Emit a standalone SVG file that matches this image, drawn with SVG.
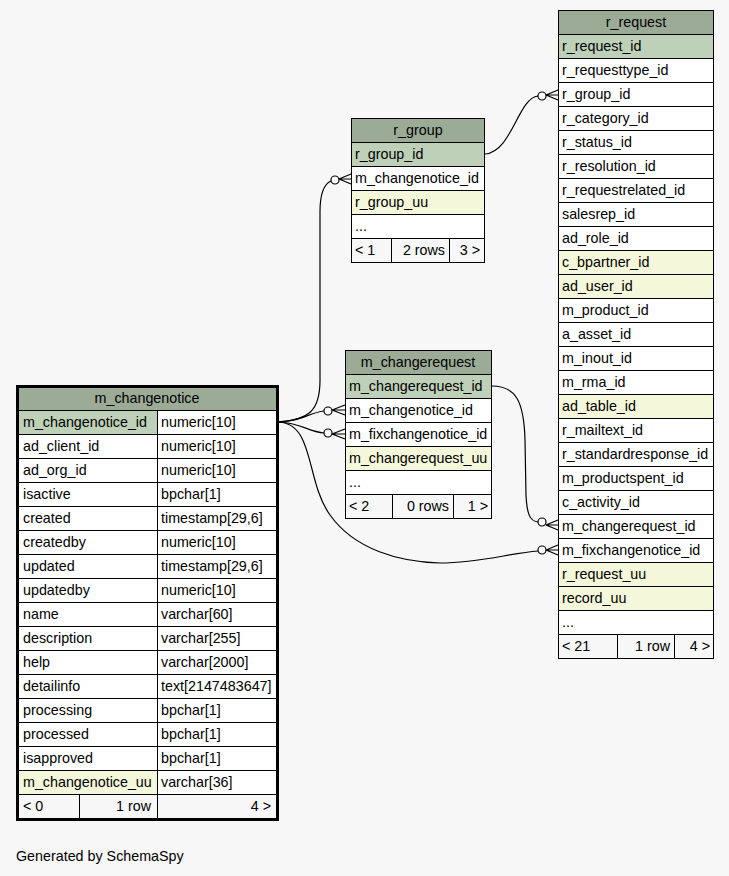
<svg xmlns="http://www.w3.org/2000/svg" width="729" height="876" viewBox="0 0 729 876">
<style>
rect{stroke:#000;stroke-width:1}
.h{fill:#9bab96}.k{fill:#bed1b8}.u{fill:#f4f7da}.w{fill:#fff}.f{fill:#f7f7f7}
text{font-family:"Liberation Sans",Arial,sans-serif;font-size:14.3px;fill:#000}
.c{text-anchor:middle}.r{text-anchor:end}
.e{fill:none;stroke:#000;stroke-width:1.2}
.o{fill:#fff;stroke:#000;stroke-width:1.2}
</style>
<rect x="0" y="0" width="729" height="876" style="fill:#f7f7f7;stroke:none"/>
<g id="connectors">
<path class="e" d="M485,154 C512,152 518,98 538,96"/>
<circle class="o" cx="542" cy="96" r="4"/>
<path class="e" d="M546,95 L558,90 M546,95 L558,95 M546,95 L558,100"/>
<path class="e" d="M277,422 C310,420 320,410 320,380 L320,212 C320,194 324,184 331,181"/>
<circle class="o" cx="335" cy="180" r="4"/>
<path class="e" d="M339,179 L351,174 M339,179 L351,179 M339,179 L351,184"/>
<path class="e" d="M277,422 C300,422 308,413 324,411"/>
<circle class="o" cx="328" cy="411" r="4"/>
<path class="e" d="M332,410 L345,405 M332,410 L345,410 M332,410 L345,415"/>
<path class="e" d="M277,422 C300,422 308,432 324,433"/>
<circle class="o" cx="328" cy="433" r="4"/>
<path class="e" d="M332,434 L345,429 M332,434 L345,434 M332,434 L345,439"/>
<path class="e" d="M277,422 C315,422 305,480 330,515 C355,550 400,562 440,563 C480,563 510,553 538,551"/>
<circle class="o" cx="542" cy="550" r="4"/>
<path class="e" d="M546,550 L558,545 M546,550 L558,550 M546,550 L558,555"/>
<path class="e" d="M492,386 C515,386 524,400 525,440 L526,495 C527,515 530,521 538,522"/>
<circle class="o" cx="542" cy="522" r="4"/>
<path class="e" d="M546,525 L558,520 M546,525 L558,525 M546,525 L558,530"/>
</g>
<g id="r_request">
<rect class="h" x="558.5" y="10.5" width="155" height="24"/><text class="c" x="636" y="27">r_request</text>
<rect class="k" x="558.5" y="34.5" width="155" height="24"/><text x="562" y="51">r_request_id</text>
<rect class="w" x="558.5" y="58.5" width="155" height="24"/><text x="562" y="75">r_requesttype_id</text>
<rect class="w" x="558.5" y="82.5" width="155" height="24"/><text x="562" y="99">r_group_id</text>
<rect class="w" x="558.5" y="106.5" width="155" height="24"/><text x="562" y="123">r_category_id</text>
<rect class="w" x="558.5" y="130.5" width="155" height="24"/><text x="562" y="147">r_status_id</text>
<rect class="w" x="558.5" y="154.5" width="155" height="24"/><text x="562" y="171">r_resolution_id</text>
<rect class="w" x="558.5" y="178.5" width="155" height="24"/><text x="562" y="195">r_requestrelated_id</text>
<rect class="w" x="558.5" y="202.5" width="155" height="24"/><text x="562" y="219">salesrep_id</text>
<rect class="w" x="558.5" y="226.5" width="155" height="24"/><text x="562" y="243">ad_role_id</text>
<rect class="u" x="558.5" y="250.5" width="155" height="24"/><text x="562" y="267">c_bpartner_id</text>
<rect class="u" x="558.5" y="274.5" width="155" height="24"/><text x="562" y="291">ad_user_id</text>
<rect class="w" x="558.5" y="298.5" width="155" height="24"/><text x="562" y="315">m_product_id</text>
<rect class="w" x="558.5" y="322.5" width="155" height="24"/><text x="562" y="339">a_asset_id</text>
<rect class="w" x="558.5" y="346.5" width="155" height="24"/><text x="562" y="363">m_inout_id</text>
<rect class="w" x="558.5" y="370.5" width="155" height="24"/><text x="562" y="387">m_rma_id</text>
<rect class="u" x="558.5" y="394.5" width="155" height="24"/><text x="562" y="411">ad_table_id</text>
<rect class="w" x="558.5" y="418.5" width="155" height="24"/><text x="562" y="435">r_mailtext_id</text>
<rect class="w" x="558.5" y="442.5" width="155" height="24"/><text x="562" y="459">r_standardresponse_id</text>
<rect class="w" x="558.5" y="466.5" width="155" height="24"/><text x="562" y="483">m_productspent_id</text>
<rect class="w" x="558.5" y="490.5" width="155" height="24"/><text x="562" y="507">c_activity_id</text>
<rect class="w" x="558.5" y="514.5" width="155" height="24"/><text x="562" y="531">m_changerequest_id</text>
<rect class="w" x="558.5" y="538.5" width="155" height="24"/><text x="562" y="555">m_fixchangenotice_id</text>
<rect class="u" x="558.5" y="562.5" width="155" height="24"/><text x="562" y="579">r_request_uu</text>
<rect class="u" x="558.5" y="586.5" width="155" height="24"/><text x="562" y="603">record_uu</text>
<rect class="w" x="558.5" y="610.5" width="155" height="24"/><text x="562" y="627">...</text>
<rect class="f" x="558.5" y="634.5" width="59" height="24"/><text x="562" y="651">&lt; 21</text>
<rect class="f" x="617.5" y="634.5" width="57" height="24"/><text class="r" x="670" y="651">1 row</text>
<rect class="f" x="674.5" y="634.5" width="39" height="24"/><text class="r" x="710" y="651">4 &gt;</text>
</g>
<g id="r_group">
<rect class="h" x="351.5" y="118.5" width="133" height="24"/><text class="c" x="418" y="135">r_group</text>
<rect class="k" x="351.5" y="142.5" width="133" height="24"/><text x="355" y="159">r_group_id</text>
<rect class="w" x="351.5" y="166.5" width="133" height="24"/><text x="355" y="183">m_changenotice_id</text>
<rect class="u" x="351.5" y="190.5" width="133" height="24"/><text x="355" y="207">r_group_uu</text>
<rect class="w" x="351.5" y="214.5" width="133" height="24"/><text x="355" y="231">...</text>
<rect class="f" x="351.5" y="238.5" width="40" height="24"/><text x="355" y="255">&lt; 1</text>
<rect class="f" x="391.5" y="238.5" width="58" height="24"/><text class="r" x="445" y="255">2 rows</text>
<rect class="f" x="449.5" y="238.5" width="35" height="24"/><text class="r" x="480" y="255">3 &gt;</text>
</g>
<g id="m_changerequest">
<rect class="h" x="345.5" y="350.5" width="146" height="24"/><text class="c" x="418" y="367">m_changerequest</text>
<rect class="k" x="345.5" y="374.5" width="146" height="24"/><text x="349" y="391">m_changerequest_id</text>
<rect class="w" x="345.5" y="398.5" width="146" height="24"/><text x="349" y="415">m_changenotice_id</text>
<rect class="w" x="345.5" y="422.5" width="146" height="24"/><text x="349" y="439">m_fixchangenotice_id</text>
<rect class="u" x="345.5" y="446.5" width="146" height="24"/><text x="349" y="463">m_changerequest_uu</text>
<rect class="w" x="345.5" y="470.5" width="146" height="24"/><text x="349" y="487">...</text>
<rect class="f" x="345.5" y="494.5" width="47" height="24"/><text x="349" y="511">&lt; 2</text>
<rect class="f" x="392.5" y="494.5" width="61" height="24"/><text class="r" x="449" y="511">0 rows</text>
<rect class="f" x="453.5" y="494.5" width="38" height="24"/><text class="r" x="488" y="511">1 &gt;</text>
</g>
<g id="m_changenotice">
<rect class="h" x="18.5" y="386.5" width="258" height="24"/><text class="c" x="147" y="403">m_changenotice</text>
<rect class="k" x="18.5" y="410.5" width="139" height="24"/><rect class="w" x="157.5" y="410.5" width="119" height="24"/><text x="23" y="427">m_changenotice_id</text><text x="161" y="427">numeric[10]</text>
<rect class="w" x="18.5" y="434.5" width="139" height="24"/><rect class="w" x="157.5" y="434.5" width="119" height="24"/><text x="23" y="451">ad_client_id</text><text x="161" y="451">numeric[10]</text>
<rect class="w" x="18.5" y="458.5" width="139" height="24"/><rect class="w" x="157.5" y="458.5" width="119" height="24"/><text x="23" y="475">ad_org_id</text><text x="161" y="475">numeric[10]</text>
<rect class="w" x="18.5" y="482.5" width="139" height="24"/><rect class="w" x="157.5" y="482.5" width="119" height="24"/><text x="23" y="499">isactive</text><text x="161" y="499">bpchar[1]</text>
<rect class="w" x="18.5" y="506.5" width="139" height="24"/><rect class="w" x="157.5" y="506.5" width="119" height="24"/><text x="23" y="523">created</text><text x="161" y="523">timestamp[29,6]</text>
<rect class="w" x="18.5" y="530.5" width="139" height="24"/><rect class="w" x="157.5" y="530.5" width="119" height="24"/><text x="23" y="547">createdby</text><text x="161" y="547">numeric[10]</text>
<rect class="w" x="18.5" y="554.5" width="139" height="24"/><rect class="w" x="157.5" y="554.5" width="119" height="24"/><text x="23" y="571">updated</text><text x="161" y="571">timestamp[29,6]</text>
<rect class="w" x="18.5" y="578.5" width="139" height="24"/><rect class="w" x="157.5" y="578.5" width="119" height="24"/><text x="23" y="595">updatedby</text><text x="161" y="595">numeric[10]</text>
<rect class="w" x="18.5" y="602.5" width="139" height="24"/><rect class="w" x="157.5" y="602.5" width="119" height="24"/><text x="23" y="619">name</text><text x="161" y="619">varchar[60]</text>
<rect class="w" x="18.5" y="626.5" width="139" height="24"/><rect class="w" x="157.5" y="626.5" width="119" height="24"/><text x="23" y="643">description</text><text x="161" y="643">varchar[255]</text>
<rect class="w" x="18.5" y="650.5" width="139" height="24"/><rect class="w" x="157.5" y="650.5" width="119" height="24"/><text x="23" y="667">help</text><text x="161" y="667">varchar[2000]</text>
<rect class="w" x="18.5" y="674.5" width="139" height="24"/><rect class="w" x="157.5" y="674.5" width="119" height="24"/><text x="23" y="691">detailinfo</text><text x="161" y="691">text[2147483647]</text>
<rect class="w" x="18.5" y="698.5" width="139" height="24"/><rect class="w" x="157.5" y="698.5" width="119" height="24"/><text x="23" y="715">processing</text><text x="161" y="715">bpchar[1]</text>
<rect class="w" x="18.5" y="722.5" width="139" height="24"/><rect class="w" x="157.5" y="722.5" width="119" height="24"/><text x="23" y="739">processed</text><text x="161" y="739">bpchar[1]</text>
<rect class="w" x="18.5" y="746.5" width="139" height="24"/><rect class="w" x="157.5" y="746.5" width="119" height="24"/><text x="23" y="763">isapproved</text><text x="161" y="763">bpchar[1]</text>
<rect class="u" x="18.5" y="770.5" width="139" height="24"/><rect class="w" x="157.5" y="770.5" width="119" height="24"/><text x="23" y="787">m_changenotice_uu</text><text x="161" y="787">varchar[36]</text>
<rect class="f" x="18.5" y="794.5" width="61" height="24"/><text x="23" y="811">&lt; 0</text>
<rect class="f" x="79.5" y="794.5" width="78" height="24"/><text class="r" x="151" y="811">1 row</text>
<rect class="f" x="157.5" y="794.5" width="119" height="24"/><text class="r" x="271" y="811">4 &gt;</text>
<rect x="17.5" y="386.5" width="260" height="433" style="fill:none;stroke-width:3"/>
</g>
<text x="16" y="861">Generated by SchemaSpy</text>
</svg>
